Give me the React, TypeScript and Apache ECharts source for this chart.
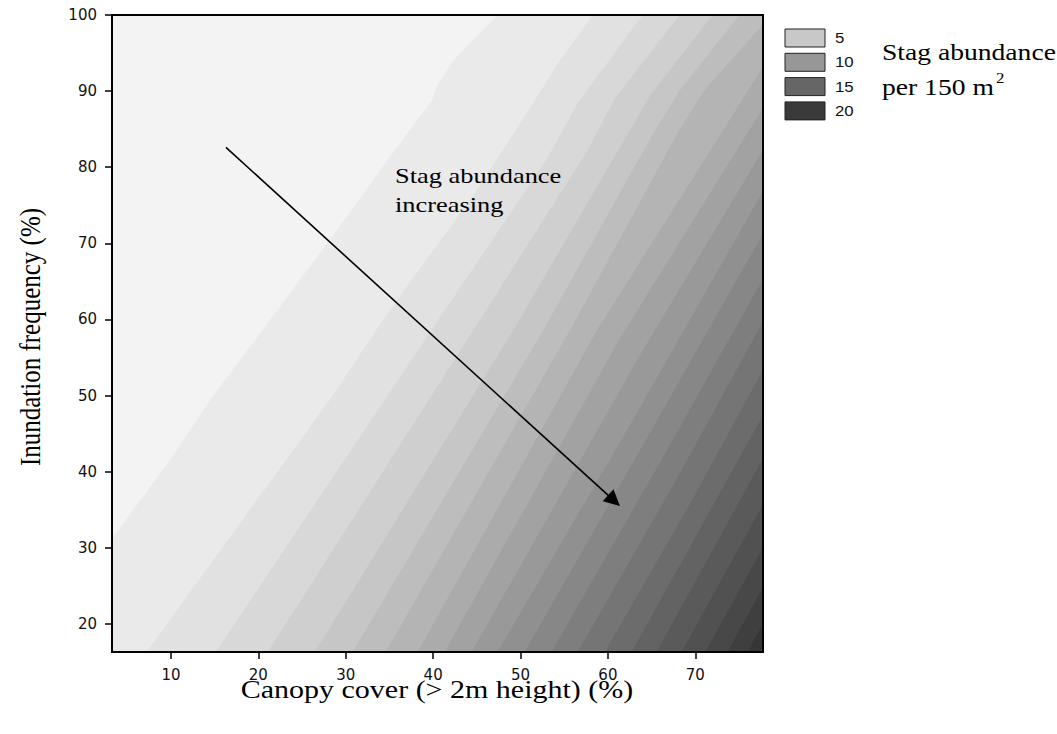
import React, { useEffect, useRef } from 'react';
import * as echarts from 'echarts';

const X_MIN = 3.25;
const X_MAX = 77.75;
const Y_MIN = 16.3;
const Y_MAX = 100;
const X_TICKS = [10, 20, 30, 40, 50, 60, 70];
const Y_TICKS = [20, 30, 40, 50, 60, 70, 80, 90, 100];

// contour levels (boundaries between bands)
const CONTOUR_LEVELS = [1, 2, 3, 4, 5, 6, 7, 8, 9, 10, 11, 12, 13, 14, 15, 16, 17, 18, 19, 20, 21];

// each contour boundary, from its lower end to its upper end, in data units
const CONTOUR_LINES: number[][][] = [
  [[3.25, 31.15], [9.9, 41.5], [14.5, 49.4], [20.5, 58.6], [27.9, 70.0], [36.2, 83.1], [39.9, 88.8], [40.4, 90.5], [42.3, 94.0], [47.4, 100]],
  [[7.25, 16.3], [19.04, 34.96], [28.19, 49.4], [34.26, 59.9], [39.63, 68.43], [44.21, 75.64], [47.99, 82.2], [51.65, 88.77], [54.51, 94.0], [58.28, 100]],
  [[15.15, 16.3], [39.2, 57.5], [53.0, 81.0], [56.6, 88.5], [64.0, 100]],
  [[21.1, 16.3], [44.2, 57.8], [57.6, 82.0], [60.8, 89.0], [68.24, 100]],
  [[26.48, 16.3], [48.9, 58.0], [61.6, 83.0], [64.9, 89.5], [72.01, 100]],
  [[30.82, 16.3], [52.6, 58.5], [65.0, 84.0], [68.2, 90.0], [75.1, 100]],
  [[34.6, 16.3], [55.9, 59.0], [68.0, 84.5], [71.0, 90.0], [77.75, 98.74]],
  [[38.26, 16.3], [58.9, 58.8], [77.75, 93.1]],
  [[41.35, 16.3], [61.4, 57.5], [77.75, 87.72]],
  [[44.44, 16.3], [63.8, 55.5], [77.75, 82.2]],
  [[47.41, 16.3], [63.0, 47.0], [77.75, 76.82]],
  [[50.5, 16.3], [64.8, 45.0], [77.75, 71.18]],
  [[53.59, 16.3], [66.4, 42.0], [77.75, 65.28]],
  [[56.57, 16.3], [67.9, 39.0], [77.75, 59.63]],
  [[59.66, 16.3], [69.3, 35.5], [77.75, 53.33]],
  [[62.75, 16.3], [77.75, 47.3]],
  [[65.6, 16.3], [77.75, 41.65]],
  [[68.47, 16.3], [77.75, 35.6]],
  [[71.2, 16.3], [77.75, 29.97]],
  [[73.73, 16.3], [77.75, 24.72]],
  [[76.0, 16.3], [77.75, 19.87]],
];

const BAND_COLORS = [
  '#f3f3f3', '#eaeaea', '#e1e1e1', '#d8d8d8', '#cfcfcf', '#c6c6c6', '#bdbdbd', '#b4b4b4',
  '#ababab', '#a2a2a2', '#999999', '#909090', '#878787', '#7e7e7e', '#757575', '#6c6c6c',
  '#636363', '#5a5a5a', '#515151', '#484848', '#3f3f3f', '#363636',
];

const LEGEND_LABELS = ['5', '10', '15', '20'];
const LEGEND_COLORS = ['#c8c8c8', '#979797', '#666666', '#3a3a3a'];

const ARROW_START = [16.29, 82.6];
const ARROW_END = [60.7, 36.19];

export default function App() {
  const ref = useRef<HTMLDivElement>(null);
  useEffect(() => {
    document.body.style.margin = '0';
    const chart = echarts.init(ref.current!, null, { renderer: 'svg' });
    const serif = '"Liberation Serif", "Times New Roman", serif';
    const sans = '"Liberation Sans", Arial, sans-serif';

    const legendGraphics: any[] = [];
    LEGEND_LABELS.forEach((lab, i) => {
      const y = 29 + i * 24.3;
      legendGraphics.push({
        type: 'rect',
        shape: { x: 785, y, width: 40, height: 18 },
        style: { fill: LEGEND_COLORS[i], stroke: '#222', lineWidth: 1 },
      });
      legendGraphics.push({
        type: 'text',
        x: 835,
        y: y + 9,
        scaleX: 1.2,
        style: { text: lab, fontFamily: sans, fontSize: 14, fill: '#111', align: 'left', verticalAlign: 'middle' },
      });
    });

    const option: any = {
      animation: false,
      grid: {
        left: 112, top: 15, width: 651, height: 637,
        show: true, backgroundColor: BAND_COLORS[0], borderWidth: 0,
      },
      xAxis: {
        type: 'value', min: X_MIN, max: X_MAX,
        axisLine: { show: false },
        axisTick: { show: true, customValues: X_TICKS, length: 7, lineStyle: { color: '#000', width: 1.5 } },
        axisLabel: { customValues: X_TICKS, fontFamily: '"DejaVu Sans", sans-serif', fontSize: 15, color: '#111', margin: 15 },
        splitLine: { show: false },
      },
      yAxis: {
        type: 'value', min: Y_MIN, max: Y_MAX,
        axisLine: { show: false },
        axisTick: { show: true, customValues: Y_TICKS, length: 7, lineStyle: { color: '#000', width: 1.5 } },
        axisLabel: { customValues: Y_TICKS, fontFamily: '"DejaVu Sans", sans-serif', fontSize: 15, color: '#111', margin: 15 },
        splitLine: { show: false },
      },
      series: [
        {
          type: 'custom',
          coordinateSystem: 'cartesian2d',
          clip: true,
          silent: true,
          data: CONTOUR_LEVELS.map((lv, i) => [CONTOUR_LINES[i][0][0], CONTOUR_LINES[i][0][1], lv]),
          encode: { x: 0, y: 1 },
          renderItem: (params: any, api: any) => {
            const k = params.dataIndex;
            const pts = [...CONTOUR_LINES[k], [X_MAX, Y_MAX], [X_MAX, Y_MIN], [X_MIN, Y_MIN]].map((p) => api.coord(p));
            return {
              type: 'polygon',
              shape: { points: pts },
              style: { fill: BAND_COLORS[k + 1], stroke: BAND_COLORS[k + 1], lineWidth: 0.5 },
            };
          },
        },
        {
          type: 'line',
          data: [],
          silent: true,
          markLine: {
            silent: true,
            symbol: ['none', 'triangle'],
            symbolSize: 16,
            label: { show: false },
            lineStyle: { color: '#000', width: 1.6, type: 'solid' },
            itemStyle: { color: '#000' },
            data: [[{ coord: ARROW_START }, { coord: ARROW_END }]],
          },
        },
      ],
      graphic: [
        {
          type: 'rect',
          shape: { x: 112, y: 15, width: 651, height: 637 },
          style: { fill: 'none', stroke: '#000', lineWidth: 2 },
          z: 100,
        },
        {
          type: 'text', x: 437, y: 689, scaleX: 1.2,
          style: { text: 'Canopy cover (> 2m height) (%)', fontFamily: serif, fontSize: 25, fill: '#000', align: 'center', verticalAlign: 'middle' },
        },
        {
          type: 'text', x: 30, y: 337, rotation: Math.PI / 2, scaleY: 1.2,
          style: { text: 'Inundation frequency (%)', fontFamily: serif, fontSize: 25, fill: '#000', align: 'center', verticalAlign: 'middle' },
        },
        {
          type: 'text', x: 395, y: 175, scaleX: 1.2, z: 50,
          style: { text: 'Stag abundance', fontFamily: serif, fontSize: 22, fill: '#000', align: 'left', verticalAlign: 'middle' },
        },
        {
          type: 'text', x: 395, y: 204, scaleX: 1.2, z: 50,
          style: { text: 'increasing', fontFamily: serif, fontSize: 22, fill: '#000', align: 'left', verticalAlign: 'middle' },
        },
        {
          type: 'text', x: 882, y: 52, scaleX: 1.2,
          style: { text: 'Stag abundance', fontFamily: serif, fontSize: 23, fill: '#000', align: 'left', verticalAlign: 'middle' },
        },
        {
          type: 'text', x: 882, y: 87, scaleX: 1.2,
          style: { text: 'per 150 m', fontFamily: serif, fontSize: 23, fill: '#000', align: 'left', verticalAlign: 'middle' },
        },
        {
          type: 'text', x: 996, y: 78, scaleX: 1.2,
          style: { text: '2', fontFamily: serif, fontSize: 14, fill: '#000', align: 'left', verticalAlign: 'middle' },
        },
        ...legendGraphics,
      ],
    };
    chart.setOption(option);
    return () => chart.dispose();
  }, []);
  return <div ref={ref} style={{ width: 1057, height: 734 }} />;
}
